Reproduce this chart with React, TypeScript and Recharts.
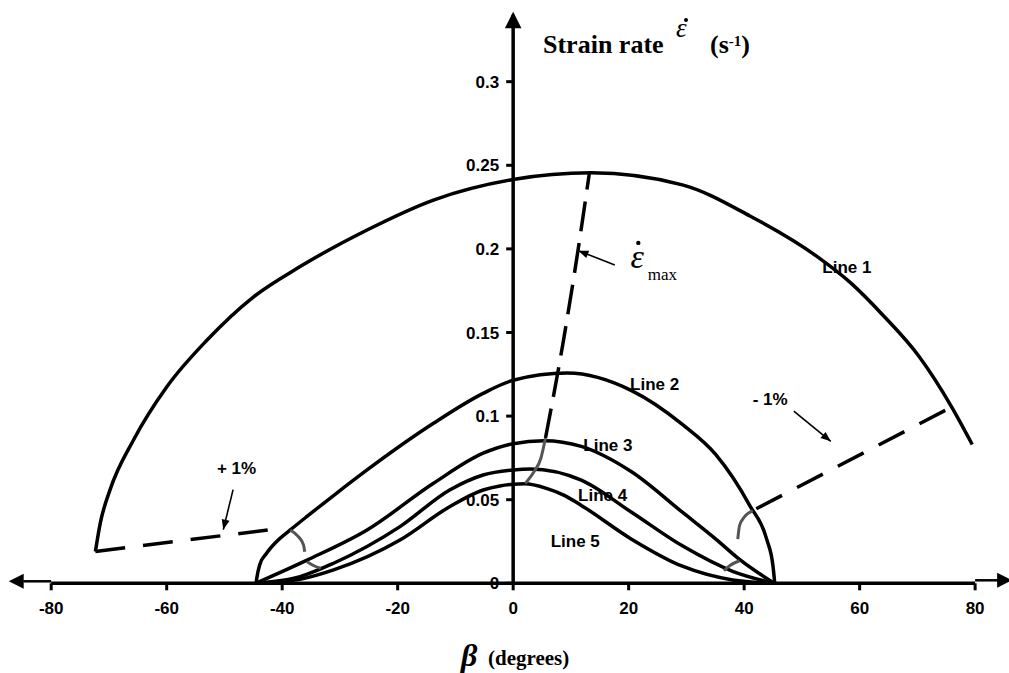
import React from 'react';
import { ComposedChart, Line, XAxis, YAxis, ReferenceLine, ReferenceDot } from 'recharts';

const SANS = "'Liberation Sans', Arial, Helvetica, sans-serif";
const SERIF = "'Liberation Serif', 'Times New Roman', Times, serif";

// axis ticks
const xTicks = [-80, -60, -40, -20, 0, 20, 40, 60, 80];
const yTicks = [0, 0.05, 0.1, 0.15, 0.2, 0.25, 0.3];
const yTickLabels = ['0', '0.05', '0.1', '0.15', '0.2', '0.25', '0.3'];

// curves (beta in degrees, strain rate in 1/s)
const line1 = [
  { x: -72.35, y: 0.019 }, { x: -71.5, y: 0.036 }, { x: -69.8, y: 0.056 }, { x: -65.7, y: 0.086 },
  { x: -60, y: 0.1174 }, { x: -53, y: 0.1455 }, { x: -45, y: 0.1712 }, { x: -36.9, y: 0.1894 },
  { x: -25.3, y: 0.2113 }, { x: -13.8, y: 0.2292 }, { x: 0, y: 0.2415 }, { x: 13.5, y: 0.2455 },
  { x: 29.3, y: 0.2383 }, { x: 41, y: 0.2197 }, { x: 52.6, y: 0.1955 }, { x: 58.5, y: 0.1795 },
  { x: 64, y: 0.1605 }, { x: 70.2, y: 0.1361 }, { x: 76, y: 0.1051 }, { x: 79.5, y: 0.083 },
];
const line2 = [
  { x: -44.5, y: 0.0005 }, { x: -44.4, y: 0.003 }, { x: -43.9, y: 0.011 }, { x: -42.7, y: 0.018 },
  { x: -41, y: 0.0249 }, { x: -38.6, y: 0.0319 }, { x: -35.7, y: 0.04 }, { x: -31.1, y: 0.0525 },
  { x: -25.3, y: 0.0678 }, { x: -13.8, y: 0.0957 }, { x: -5.2, y: 0.1136 }, { x: 0, y: 0.1214 },
  { x: 9.4, y: 0.1257 }, { x: 20.5, y: 0.1152 }, { x: 29.3, y: 0.095 }, { x: 35.1, y: 0.0769 },
  { x: 40.95, y: 0.0466 }, { x: 43.9, y: 0.0264 }, { x: 45, y: 0.0102 }, { x: 45.3, y: 0 },
];
const line3 = [
  { x: -44.6, y: 0 }, { x: -35.7, y: 0.0139 }, { x: -25.3, y: 0.0319 }, { x: -13.8, y: 0.0598 },
  { x: -5.2, y: 0.0778 }, { x: 0, y: 0.0835 }, { x: 5.35, y: 0.0853 }, { x: 11.8, y: 0.0819 },
  { x: 20.5, y: 0.0667 }, { x: 29.3, y: 0.0425 }, { x: 35.1, y: 0.0264 }, { x: 39.2, y: 0.0143 },
  { x: 45.2, y: 0 },
];
const line4 = [
  { x: -44.6, y: 0 }, { x: -36.9, y: 0.004 }, { x: -31.1, y: 0.012 }, { x: -19.6, y: 0.0339 },
  { x: -11, y: 0.0558 }, { x: -5.2, y: 0.0648 }, { x: 0, y: 0.0678 }, { x: 3, y: 0.0684 },
  { x: 11.8, y: 0.0617 }, { x: 20.5, y: 0.0425 }, { x: 29.3, y: 0.0224 }, { x: 38, y: 0.0072 },
  { x: 45.2, y: 0 },
];
const line5 = [
  { x: -44.6, y: 0 }, { x: -36.9, y: 0.0024 }, { x: -31.1, y: 0.008 }, { x: -19.6, y: 0.0259 },
  { x: -11, y: 0.0458 }, { x: -5.2, y: 0.0558 }, { x: -2.3, y: 0.0582 }, { x: 0, y: 0.0592 },
  { x: 2, y: 0.0595 }, { x: 5.9, y: 0.0566 }, { x: 8.85, y: 0.0526 }, { x: 11.8, y: 0.0466 },
  { x: 20.5, y: 0.0264 }, { x: 29.3, y: 0.0102 }, { x: 38, y: 0.002 }, { x: 45.2, y: 0 },
];

// strain-rate maximum locus
const maxDashed = [{ x: 5.6, y: 0.0869 }, { x: 8.6, y: 0.143 }, { x: 11.2, y: 0.1985 }, { x: 13.2, y: 0.2455 }];
const maxGrey = [{ x: 2.1, y: 0.0597 }, { x: 3.6, y: 0.0667 }, { x: 4.8, y: 0.0748 }, { x: 5.6, y: 0.0869 }];

// +1% / -1% loci
const plusDashed = [{ x: -72.35, y: 0.019 }, { x: -42.5, y: 0.0319 }];
const plusArcA = [{ x: -38.6, y: 0.0319 }, { x: -37.2, y: 0.0279 }, { x: -36.3, y: 0.0229 }, { x: -36.1, y: 0.0189 }];
const plusArcB = [{ x: -35.7, y: 0.0129 }, { x: -34.5, y: 0.0105 }, { x: -33.3, y: 0.009 }];
const minusDashed = [{ x: 42.1, y: 0.0446 }, { x: 75.7, y: 0.105 }];
const minusArcA = [{ x: 38.9, y: 0.0264 }, { x: 39.2, y: 0.0345 }, { x: 40, y: 0.0395 }, { x: 41.5, y: 0.0435 }];
const minusArcB = [{ x: 36.5, y: 0.0075 }, { x: 37.6, y: 0.0108 }, { x: 39.2, y: 0.0135 }];

// annotation arrows (start -> tip)
const arrowPlus = [{ x: -48.5, y: 0.056 }, { x: -50.2, y: 0.0321 }];
const arrowMinus = [{ x: 48.6, y: 0.103 }, { x: 55.0, y: 0.0849 }];
const arrowMax = [{ x: 17.6, y: 0.1904 }, { x: 11.3, y: 0.1989 }];

// text labels
const lineLabels = [
  { text: 'Line 1', x: 57.8, y: 0.1895 },
  { text: 'Line 2', x: 24.5, y: 0.1192 },
  { text: 'Line 3', x: 16.4, y: 0.0829 },
  { text: 'Line 4', x: 15.5, y: 0.0526 },
  { text: 'Line 5', x: 10.75, y: 0.0254 },
  { text: '+ 1%', x: -47.9, y: 0.0688 },
  { text: '- 1%', x: 44.5, y: 0.1101 },
];
const maxLabel = { x: 21.5, y: 0.1934 };

const arrowDot = (fallbackAngle: number) => (props: any) => {
  const { cx, cy, index, points } = props;
  if (index !== 1) return <g key={`d-${index}`} />;
  let ang = (fallbackAngle * Math.PI) / 180;
  if (points && points.length > 1) {
    ang = Math.atan2(points[1].y - points[0].y, points[1].x - points[0].x);
  }
  const L = 10, W = 4;
  const bx = cx - L * Math.cos(ang), by = cy - L * Math.sin(ang);
  const px = -Math.sin(ang) * W, py = Math.cos(ang) * W;
  return (
    <path key={`d-${index}`} d={`M${cx},${cy}L${bx + px},${by + py}L${bx - px},${by - py}Z`} fill="#000" stroke="none" />
  );
};

const curve = (data: any[], key: string, extra: any = {}) => (
  <Line key={key} data={data} dataKey="y" type="monotone" stroke="#000" strokeWidth={3.5}
    dot={false} activeDot={false} isAnimationActive={false} legendType="none" {...extra} />
);

const yTickShape = (label: string) => (p: any) => (
  <g>
    <line x1={p.cx - 7} x2={p.cx} y1={p.cy} y2={p.cy} stroke="#000" strokeWidth={3} />
    <text x={p.cx - 14} y={p.cy} dy="0.36em" textAnchor="end" fontFamily={SANS} fontWeight={700} fontSize={17} fill="#000">{label}</text>
  </g>
);

const textShape = (label: string) => (p: any) => (
  <text x={p.cx} y={p.cy} dy="0.36em" textAnchor="middle" fontFamily={SANS} fontWeight={700} fontSize={17} fill="#000">{label}</text>
);

const maxShape = (p: any) => (
  <g>
    <text x={p.cx} y={p.cy + 8} textAnchor="middle" fontFamily={SERIF} fontStyle="italic" fontSize={34} fill="#000">ε</text>
    <circle cx={p.cx + 1} cy={p.cy - 17} r={2.2} fill="#000" />
    <text x={p.cx + 10.5} y={p.cy + 20} fontFamily={SERIF} fontSize={17} fill="#000">max</text>
  </g>
);

const upArrow = (p: any) => (
  <path d={`M${p.cx},${p.cy - 3.1}L${p.cx - 8.3},${p.cy + 13.5}L${p.cx + 8.3},${p.cy + 13.5}Z`} fill="#000" />
);
const leftArrow = (p: any) => (
  <g>
    <line x1={p.cx} x2={p.cx - 28} y1={p.cy - 2} y2={p.cy - 2} stroke="#000" strokeWidth={2.5} />
    <path d={`M${p.cx - 42.4},${p.cy - 2}L${p.cx - 27.5},${p.cy - 9.5}L${p.cx - 27.5},${p.cy + 5.5}Z`} fill="#000" />
  </g>
);
const rightArrow = (p: any) => (
  <g>
    <line x1={p.cx} x2={p.cx + 23} y1={p.cy - 3} y2={p.cy - 3} stroke="#000" strokeWidth={2.5} />
    <path d={`M${p.cx + 37},${p.cy - 3}L${p.cx + 22},${p.cy - 10.5}L${p.cx + 22},${p.cy + 4.5}Z`} fill="#000" />
  </g>
);

export default function App() {
  return (
    <div style={{ position: 'absolute', left: 0, top: 0, width: 1009, height: 673, background: '#fff', overflow: 'hidden' }}>
      <ComposedChart width={1009} height={673} margin={{ top: 14.8, right: 5, bottom: 49.7, left: 5 }}>
        <XAxis type="number" dataKey="x" domain={[-88, 85]} allowDataOverflow ticks={xTicks} interval={0}
          axisLine={false} tickLine={{ stroke: '#000', strokeWidth: 3 }} tickSize={7} tickMargin={12} height={40}
          tick={{ fill: '#000', fontSize: 17, fontWeight: 700, fontFamily: SANS }} />
        <YAxis type="number" hide domain={[0, 0.34]} allowDataOverflow width={0} />

        <ReferenceLine segment={[{ x: -80, y: 0 }, { x: 80, y: 0 }]} stroke="#000" strokeWidth={3.5} />
        <ReferenceLine segment={[{ x: 0, y: 0 }, { x: 0, y: 0.34 }]} stroke="#000" strokeWidth={3.5} />
        <ReferenceDot x={0} y={0.34} r={0} shape={upArrow} />
        <ReferenceDot x={-80} y={0} r={0} shape={leftArrow} />
        <ReferenceDot x={80} y={0} r={0} shape={rightArrow} />
        {yTicks.map((v, i) => (
          <ReferenceDot key={`yt-${i}`} x={0} y={v} r={0} shape={yTickShape(yTickLabels[i])} />
        ))}

        {curve(line1, 'l1')}
        {curve(line2, 'l2')}
        {curve(line3, 'l3')}
        {curve(line4, 'l4')}
        {curve(line5, 'l5')}

        {curve(maxDashed, 'md', { strokeDasharray: '30 12' })}
        {curve(maxGrey, 'mg', { stroke: '#555', strokeWidth: 3 })}
        {curve(plusDashed, 'pd', { type: 'linear', strokeDasharray: '30 18' })}
        {curve(plusArcA, 'pa', { stroke: '#555', strokeWidth: 3 })}
        {curve(plusArcB, 'pb', { stroke: '#555', strokeWidth: 3 })}
        {curve(minusDashed, 'nd', { type: 'linear', strokeDasharray: '29 17' })}
        {curve(minusArcA, 'na', { stroke: '#555', strokeWidth: 3 })}
        {curve(minusArcB, 'nb', { stroke: '#555', strokeWidth: 3 })}

        {curve(arrowPlus, 'ap', { type: 'linear', strokeWidth: 1.6, dot: arrowDot(104) })}
        {curve(arrowMinus, 'am', { type: 'linear', strokeWidth: 1.6, dot: arrowDot(39) })}
        {curve(arrowMax, 'ax', { type: 'linear', strokeWidth: 1.6, dot: arrowDot(201) })}

        {lineLabels.map((l, i) => (
          <ReferenceDot key={`lb-${i}`} x={l.x} y={l.y} r={0} shape={textShape(l.text)} />
        ))}
        <ReferenceDot x={maxLabel.x} y={maxLabel.y} r={0} shape={maxShape} />
      </ComposedChart>

      <svg width={1009} height={673} style={{ position: 'absolute', left: 0, top: 0, pointerEvents: 'none' }}>
        <text x={543} y={53.3} fontFamily={SERIF} fontWeight={700} fontSize={26} fill="#000">Strain rate</text>
        <text x={676} y={37} fontFamily={SERIF} fontStyle="italic" fontSize={27} fill="#000">ε</text>
        <circle cx={686} cy={20} r={2} fill="#000" />
        <text x={710} y={53.3} fontFamily={SERIF} fontWeight={700} fontSize={26} fill="#000">
          (s<tspan dy={-7} fontSize={15}>-1</tspan><tspan dy={7}>)</tspan>
        </text>
        <text x={461} y={666} fontFamily={SERIF} fontWeight={700} fontStyle="italic" fontSize={32} fill="#000">β</text>
        <text x={488} y={665} fontFamily={SERIF} fontWeight={700} fontSize={21} fill="#000">(degrees)</text>
      </svg>
    </div>
  );
}
